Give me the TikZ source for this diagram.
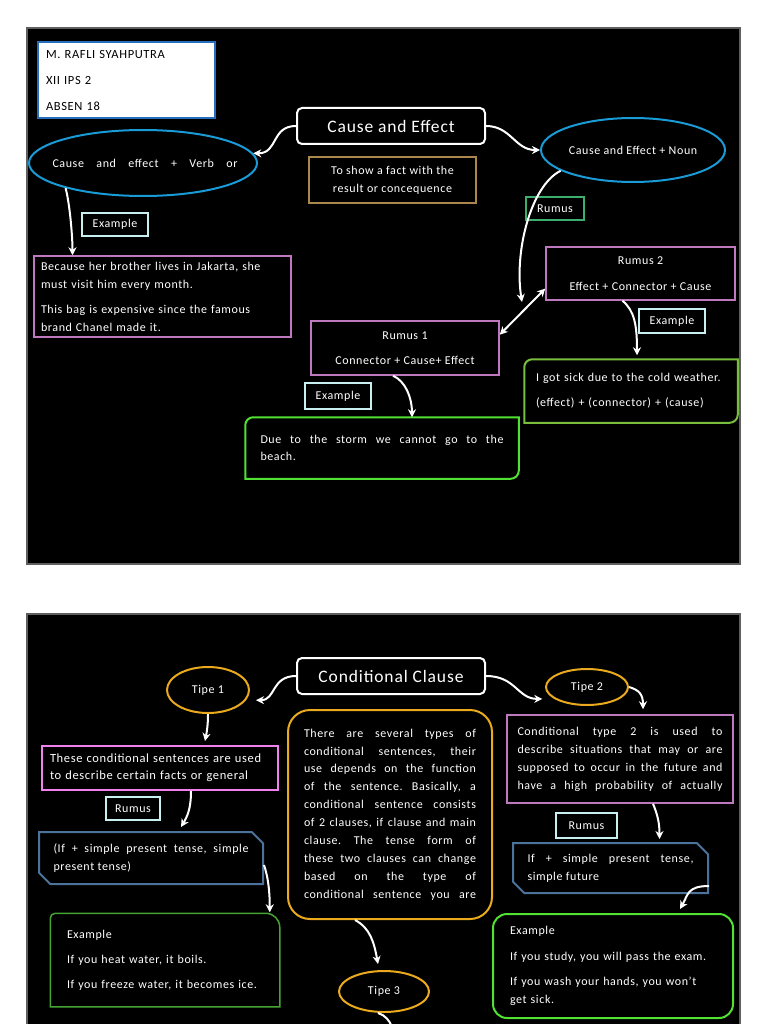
\documentclass[tikz,border=0pt]{standalone}
\usepackage{fontspec}
\setmainfont{Carlito}[LetterSpace=5]
\usetikzlibrary{arrows.meta, shapes.geometric, shapes.misc, positioning}
\frenchspacing

\definecolor{slideedge}{RGB}{95,95,95}
\definecolor{nameblue}{RGB}{40,110,190}
\definecolor{ovalcyan}{RGB}{25,155,215}
\definecolor{factgold}{RGB}{170,135,75}
\definecolor{rumusgreen}{RGB}{60,175,110}
\definecolor{tagcyan}{RGB}{200,240,240}
\definecolor{rumusviolet}{RGB}{190,120,190}
\definecolor{limegreen}{RGB}{120,190,60}
\definecolor{brightgreen}{RGB}{80,225,50}
\definecolor{tipegold}{RGB}{235,170,30}
\definecolor{factpink}{RGB}{240,130,240}
\definecolor{formsteel}{RGB}{75,115,155}
\definecolor{exgreen}{RGB}{70,165,50}

\begin{document}
\begin{tikzpicture}[
            x = 1pt, y = -1pt, % pixel grid of the slides, y downwards
            > = {Stealth[length=8pt, width=8pt]}, % arrow head style
            white, % lines and text on black slides
            font = \fontsize{12}{18}\selectfont
        ]

        \tikzstyle{slide}=[fill=black, draw=slideedge, line width=1.5pt]
        \tikzstyle{box}=[draw, rectangle, inner sep=0pt, line width=1.5pt]
        \tikzstyle{oval}=[draw, ellipse, inner sep=0pt, line width=2pt]
        \tikzstyle{tag}=[box, draw=tagcyan, line width=2pt, minimum height=23pt]
        \tikzstyle{heading}=[box, rounded corners=5pt, line width=2pt,
            minimum width=188pt, minimum height=36pt,
            font=\fontsize{17.5}{20}\selectfont]
        \tikzstyle{formula}=[draw=formsteel, line width=2pt, chamfered rectangle,
            chamfered rectangle corners={north east, south west},
            chamfered rectangle xsep=8pt, inner sep=0pt]
        \tikzstyle{fulljust}=[align=justify, execute at begin node={\parfillskip=0pt}]
        \tikzstyle{link}=[->, line width=2pt]

        % page and the two slides
        \fill[white] (0,0) rectangle (768,1024);
        \useasboundingbox (0,0) rectangle (768,1024);
        \draw[slide] (27,28) rectangle (740,564);
        \draw[slide] (27,614) rectangle (740,1040);

        % ---- slide 1: cause and effect ----
        \node[box, draw=nameblue, fill=white, line width=2pt, minimum width=177pt,
            minimum height=76pt, text=black, text width=161pt, align=left,
            font=\fontsize{12.5}{26}\selectfont] (student) at (126.5,80)
            {M. RAFLI SYAHPUTRA\\XII IPS 2\\ABSEN 18};

        \node[heading] (cause) at (391,126) {Cause and Effect};
        \node[box, draw=factgold, minimum width=167pt, minimum height=46pt, align=center]
            (purpose) at (392.5,180) {To show a fact with the\\result or concequence};

        \node[oval, draw=ovalcyan, minimum width=228pt, minimum height=66pt] (verb) at (143,163) {};
        \node[text width=185pt, fulljust] (verbtext) at ([xshift=2pt]verb.center) {Cause and effect + Verb or};
        \node[oval, draw=ovalcyan, minimum width=184pt, minimum height=64pt] (noun) at (633,150) {Cause and Effect + Noun};

        \node[box, draw=rumusgreen, line width=2pt, minimum width=58pt, minimum height=23pt]
            (rumus) at (555,208.5) {Rumus};
        \node[tag, minimum width=66pt] (exverb) at (115,224.5) {Example};

        \node[box, draw=rumusviolet, minimum width=257pt, minimum height=81pt,
            text width=243pt, align=left] (verbex) at (162.5,296.5)
            {Because her brother lives in Jakarta, she\\must visit him every month.\\[7pt]This bag is expensive since the famous\\brand Chanel made it.};

        \node[box, draw=rumusviolet, minimum width=189pt, minimum height=53pt, align=center,
            font=\fontsize{12}{26}\selectfont] (rumus2) at (640.5,273.5)
            {Rumus 2\\Effect + Connector + Cause};
        \node[box, draw=rumusviolet, minimum width=188pt, minimum height=54pt, align=center,
            font=\fontsize{12}{25}\selectfont] (rumus1) at (405,348)
            {Rumus 1\\Connector + Cause+ Effect};

        \node[tag, minimum width=66pt, minimum height=24pt] (exrumus2) at (672,321) {Example};
        \node[tag, minimum width=66pt, minimum height=26pt] (exrumus1) at (338,396) {Example};

        \node[box, draw=none, minimum width=212pt, minimum height=62pt, text width=190pt,
            align=left, font=\fontsize{12}{25}\selectfont] (sick) at (631,391)
            {I got sick due to the cold weather.\\(effect) + (connector) + (cause)};
        \draw[limegreen, line width=2pt] ([xshift=8pt]sick.north west) -- (sick.north east)
            -- ([yshift=8pt]sick.south east) arc[start angle=0, end angle=-90, radius=8pt]
            -- (sick.south west) -- ([yshift=-8pt]sick.north west)
            arc[start angle=180, end angle=90, radius=8pt] -- cycle;

        \node[box, draw=none, minimum width=272pt, minimum height=60pt, text width=243pt,
            align=justify, font=\fontsize{12}{17}\selectfont] (storm) at (382,448)
            {Due to the storm we cannot go to the\linebreak beach.};
        \draw[brightgreen, line width=2pt] ([xshift=8pt]storm.north west) -- (storm.north east)
            -- ([yshift=8pt]storm.south east) arc[start angle=0, end angle=-90, radius=8pt]
            -- (storm.south west) -- ([yshift=-8pt]storm.north west)
            arc[start angle=180, end angle=90, radius=8pt] -- cycle;

        \coordinate (split) at (522,302);

        \draw[link] (cause.west) .. controls +(-25,0) and +(25,0) .. (verb.5);
        \draw[link] (cause.east) .. controls +(25,0) and +(-25,0) .. (noun.west);
        \draw[link] (verb.198) .. controls +(4,15) and +(0,-20) .. ([xshift=-90pt]verbex.north);
        \draw[link] (noun.196) .. controls +(-30,15) and +(-8,-50) .. (split);
        \draw[link, <->] (rumus1.8) -- (rumus2.189);
        \draw[link] ([xshift=-18pt]rumus2.south) .. controls +(12,10) and +(0,-30) .. ([shift={(6pt,4pt)}]sick.north);
        \draw[link] ([xshift=-12pt]rumus1.south) .. controls +(12,5) and +(0,-20) .. ([xshift=30pt]storm.north);

        % ---- slide 2: conditional clause ----
        \node[heading] (cond) at (391,676) {Conditional Clause};
        \node[oval, draw=tipegold, minimum width=82pt, minimum height=46pt] (tipe1) at (208,690) {Tipe 1};
        \node[oval, draw=tipegold, minimum width=82pt, minimum height=36pt] (tipe2) at (587,687) {Tipe 2};
        \node[oval, draw=tipegold, minimum width=90pt, minimum height=41pt] (tipe3) at (384,991.5) {Tipe 3};

        \node[box, draw=tipegold, line width=2pt, rounded corners=22pt, minimum width=204pt,
            minimum height=209pt, text width=172pt, fulljust,
            font=\fontsize{12}{17.9}\selectfont] (types) at (390,814.5)
            {There are several types of\linebreak conditional sentences, their\linebreak
            use depends on the function\linebreak of the sentence. Basically, a\linebreak
            conditional sentence consists\linebreak of 2 clauses, if clause and main\linebreak
            clause. The tense form of\linebreak these two clauses can change\linebreak
            based on the type of\linebreak conditional sentence you are};

        \node[box, draw=factpink, line width=2pt, minimum width=236pt, minimum height=44pt,
            text width=220pt, align=left, font=\fontsize{12.5}{17}\selectfont]
            (tipe1fact) at (160,768)
            {These conditional sentences are used\\to describe certain facts or general};
        \node[tag, minimum width=54pt] (tipe1rumus) at (133,808.5) {Rumus};
        \node[formula, minimum width=224pt, minimum height=52pt, text width=195pt,
            align=justify, font=\fontsize{12}{18}\selectfont] (tipe1form) at (151,858)
            {(If + simple present tense, simple\linebreak present tense)};

        \node[box, draw=none, minimum width=228pt, minimum height=92pt, text width=196pt,
            align=left, font=\fontsize{12}{25}\selectfont] (tipe1ex) at (165,960)
            {Example\\If you heat water, it boils.\\If you freeze water, it becomes ice.};
        \draw[exgreen, line width=1.5pt] (tipe1ex.south west) -- ([yshift=-5pt]tipe1ex.north west)
            arc[start angle=180, end angle=90, radius=5pt] -- ([xshift=-14pt]tipe1ex.north east)
            arc[start angle=90, end angle=0, radius=14pt] -- (tipe1ex.south east) -- cycle;

        \node[box, draw=rumusviolet, minimum width=226pt, minimum height=88pt, text width=205pt,
            fulljust] (tipe2fact) at (620,759)
            {Conditional type 2 is used to\linebreak describe situations that may or are\linebreak
            supposed to occur in the future and\linebreak have a high probability of actually};
        \node[tag, minimum width=61pt, minimum height=25pt] (tipe2rumus) at (586.5,825.5) {Rumus};
        \node[formula, minimum width=195pt, minimum height=50pt, text width=166pt,
            align=justify, font=\fontsize{12}{18}\selectfont] (tipe2form) at (610.5,868)
            {If + simple present tense,\linebreak simple future};

        \node[box, draw=brightgreen, line width=2pt, rounded corners=14pt, minimum width=240pt,
            minimum height=104pt, text width=206pt, align=left] (tipe2ex) at (613,966)
            {Example\\[8pt]If you study, you will pass the exam.\\[7pt]If you wash your hands, you won't\\get sick.};

        \coordinate (below) at (395,1045);

        \draw[link] (cond.west) .. controls +(-25,0) and +(20,0) .. ([xshift=10pt]tipe1.-15);
        \draw[link] (cond.east) .. controls +(30,0) and +(-25,0) .. ([xshift=-12pt]tipe2.200);
        \draw[link] (tipe2.east) .. controls +(10,3) and +(0,-15) .. ([shift={(23pt,5pt)}]tipe2fact.north);
        \draw[link] (tipe1.south) .. controls +(0,10) and +(2,-10) .. ([shift={(45pt,4pt)}]tipe1fact.north);
        \draw[link] ([xshift=31pt]tipe1fact.south) .. controls +(0,18) and +(6,-10) .. ([shift={(30pt,4pt)}]tipe1form.north);
        \draw[link] ([yshift=-7pt]tipe1form.east) .. controls +(4,12) and +(0,-22) .. ([shift={(-10pt,1pt)}]tipe1ex.north east);
        \draw[link] ([xshift=-35pt]types.south) .. controls +(15,8) and +(-4,-22) .. ([shift={(-6pt,6pt)}]tipe3.north);
        \draw[link] ([xshift=-6pt]tipe3.south) .. controls +(14,4) and +(0,-10) .. (below);
        \draw[link] ([xshift=33pt]tipe2fact.south) .. controls +(5,12) and +(0,-15) .. ([shift={(49pt,3pt)}]tipe2form.north);
        \draw[link] ([yshift=8pt]tipe2form.south east) .. controls +(-22,0) and +(8,-14) .. ([shift={(67pt,4pt)}]tipe2ex.north);

    \end{tikzpicture}
\end{document}
